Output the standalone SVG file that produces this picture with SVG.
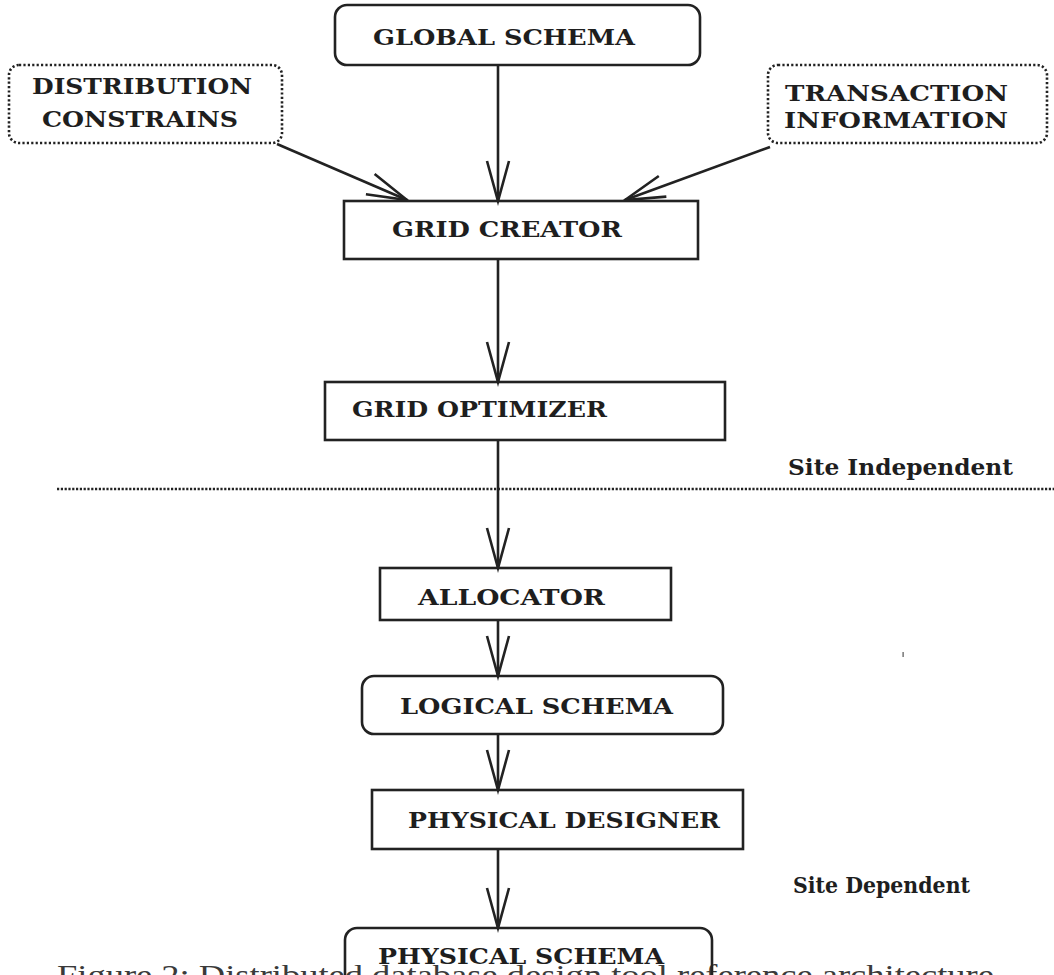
<svg xmlns="http://www.w3.org/2000/svg" width="1054" height="975" viewBox="0 0 1054 975">
  <style>
    .box { fill: none; stroke: #222; stroke-width: 2.6; }
    .dotted { fill: none; stroke: #222; stroke-width: 2.6; stroke-dasharray: 2.2 2.2; }
    .lbl { font-family: "DejaVu Serif", "Liberation Serif", serif; font-weight: bold; font-size: 23px; fill: #1e1e1e; }
    .edge { fill: none; stroke: #222; stroke-width: 2.6; marker-end: url(#vee); }
    .sep { fill: none; stroke: #222; stroke-width: 2.6; stroke-dasharray: 2.2 1.6; }
    .caption { font-family: "Liberation Serif", "DejaVu Serif", serif; font-size: 30px; fill: #3a3a3a; }
  </style>
  <defs>
    <!-- open V arrowhead -->
    <marker id="vee" markerUnits="userSpaceOnUse" markerWidth="50" markerHeight="30" viewBox="-44 -15 50 30" refX="0" refY="0" orient="auto">
      <path d="M-40,-11 L0,0 L-40,11" fill="none" stroke="#222" stroke-width="2.6" stroke-linejoin="miter"/>
    </marker>
  </defs>

  <rect width="1054" height="975" fill="#fff"/>

  <!-- caption, partly below the frame -->
  <text class="caption" x="57" y="985" textLength="946" lengthAdjust="spacingAndGlyphs">Figure 2: Distributed database design tool reference architecture.</text>

  <!-- connectors -->
  <g id="connectors">
    <line class="edge" x1="498" y1="65" x2="498" y2="201"/>
    <line class="edge" x1="277" y1="144" x2="407" y2="200"/>
    <line class="edge" x1="770" y1="147" x2="625" y2="200"/>
    <line class="edge" x1="498" y1="259" x2="498" y2="382"/>
    <line class="edge" x1="498" y1="440" x2="498" y2="568"/>
    <line class="edge" x1="498" y1="620" x2="498" y2="676"/>
    <line class="edge" x1="498" y1="734" x2="498" y2="790"/>
    <line class="edge" x1="498" y1="849" x2="498" y2="928"/>
  </g>

  <!-- boundary between site independent and site dependent stages -->
  <g id="divider">
    <line class="sep" x1="57" y1="489" x2="1054" y2="489"/>
    <text class="lbl" x="788" y="475" textLength="225" lengthAdjust="spacingAndGlyphs">Site Independent</text>
    <text class="lbl" x="793" y="893" textLength="177" lengthAdjust="spacingAndGlyphs">Site Dependent</text>
  </g>

  <g id="global-schema">
    <rect class="box" x="335" y="5" width="365" height="60" rx="12"/>
    <text class="lbl" x="373" y="45" textLength="262" lengthAdjust="spacingAndGlyphs">GLOBAL SCHEMA</text>
  </g>

  <g id="distribution-constrains">
    <rect class="dotted" x="9" y="65" width="273" height="78" rx="10"/>
    <text class="lbl" x="32" y="94" textLength="220" lengthAdjust="spacingAndGlyphs">DISTRIBUTION</text>
    <text class="lbl" x="42" y="127" textLength="196" lengthAdjust="spacingAndGlyphs">CONSTRAINS</text>
  </g>

  <g id="transaction-information">
    <rect class="dotted" x="768" y="65" width="279" height="78" rx="10"/>
    <text class="lbl" x="785" y="101" textLength="223" lengthAdjust="spacingAndGlyphs">TRANSACTION</text>
    <text class="lbl" x="784" y="128" textLength="224" lengthAdjust="spacingAndGlyphs">INFORMATION</text>
  </g>

  <g id="grid-creator">
    <rect class="box" x="344" y="201" width="354" height="58"/>
    <text class="lbl" x="392" y="237" textLength="230" lengthAdjust="spacingAndGlyphs">GRID CREATOR</text>
  </g>

  <g id="grid-optimizer">
    <rect class="box" x="325" y="382" width="400" height="58"/>
    <text class="lbl" x="352" y="417" textLength="255" lengthAdjust="spacingAndGlyphs">GRID OPTIMIZER</text>
  </g>

  <g id="allocator">
    <rect class="box" x="380" y="568" width="291" height="52"/>
    <text class="lbl" x="418" y="605" textLength="187" lengthAdjust="spacingAndGlyphs">ALLOCATOR</text>
  </g>

  <g id="logical-schema">
    <rect class="box" x="362" y="676" width="361" height="58" rx="12"/>
    <text class="lbl" x="400" y="714" textLength="273" lengthAdjust="spacingAndGlyphs">LOGICAL SCHEMA</text>
  </g>

  <g id="physical-designer">
    <rect class="box" x="372" y="790" width="371" height="59"/>
    <text class="lbl" x="408" y="828" textLength="312" lengthAdjust="spacingAndGlyphs">PHYSICAL DESIGNER</text>
  </g>

  <g id="physical-schema">
    <rect class="box" x="345" y="928" width="367" height="70" rx="12"/>
    <text class="lbl" x="378" y="964" textLength="286" lengthAdjust="spacingAndGlyphs">PHYSICAL SCHEMA</text>
  </g>

  <!-- stray speck -->
  <rect x="902.5" y="652" width="1.2" height="5" fill="#555"/>
</svg>
